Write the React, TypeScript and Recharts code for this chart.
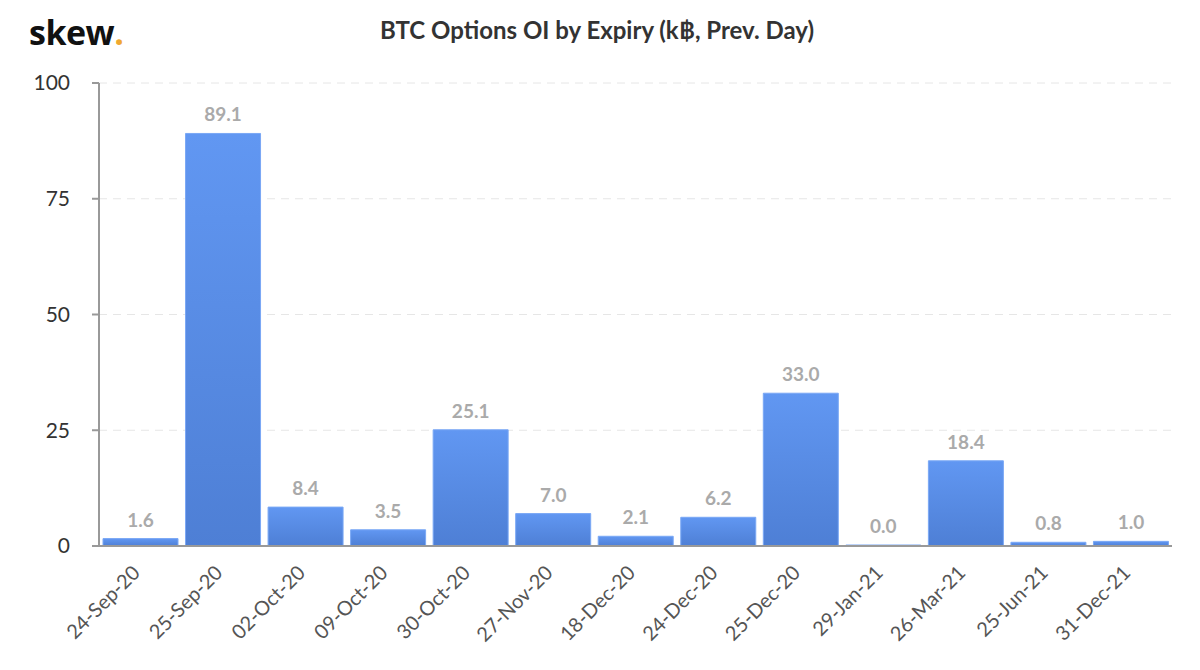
import { BarChart, Bar, XAxis, YAxis, CartesianGrid, LabelList } from "recharts";

const expiries = [
  "24-Sep-20",
  "25-Sep-20",
  "02-Oct-20",
  "09-Oct-20",
  "30-Oct-20",
  "27-Nov-20",
  "18-Dec-20",
  "24-Dec-20",
  "25-Dec-20",
  "29-Jan-21",
  "26-Mar-21",
  "25-Jun-21",
  "31-Dec-21",
];
const openInterest = [1.6, 89.1, 8.4, 3.5, 25.1, 7.0, 2.1, 6.2, 33.0, 0.0, 18.4, 0.8, 1.0];
const yTicks = [0, 25, 50, 75, 100];

const FONT = "Lato, 'Open Sans', sans-serif";

const XTick = (props: any) => {
  const { x, y, payload } = props;
  const ax = x + 1;
  const ay = y + 20;
  return (
    <text
      x={ax}
      y={ay}
      transform={`rotate(-45, ${ax}, ${ay})`}
      textAnchor="end"
      fill="#555"
      fontSize={20}
      fontFamily={FONT}
    >
      {payload.value}
    </text>
  );
};

export default function App() {
  const data = expiries.map((d, i) => ({ expiry: d, oi: openInterest[i] }));

  return (
    <div style={{ position: "absolute", left: 0, top: 0, width: 1200, height: 670, background: "#fff" }}>
      <div
        style={{
          position: "absolute",
          left: 29,
          top: 9,
          fontFamily: "'Open Sans', sans-serif",
          fontWeight: 700,
          fontSize: 34,
          color: "#111",
          letterSpacing: -0.5,
        }}
      >
        skew<span style={{ color: "#F0A830" }}>.</span>
      </div>
      <div
        style={{
          position: "absolute",
          left: 0,
          width: 1194,
          top: 15,
          textAlign: "center",
          fontFamily: FONT,
          fontWeight: 700,
          fontSize: 24,
          color: "#333",
        }}
      >
        BTC Options OI by Expiry (k฿, Prev. Day)
      </div>
      <BarChart
        width={1200}
        height={670}
        data={data}
        margin={{ top: 83, right: 28, left: 0, bottom: 0 }}
        barCategoryGap={4}
      >
        <defs>
          <linearGradient id="barFill" x1="0" y1="0" x2="0" y2="1">
            <stop offset="0%" stopColor="#6197F2" />
            <stop offset="100%" stopColor="#4E7FD5" />
          </linearGradient>
        </defs>
        <CartesianGrid vertical={false} stroke="#e6e6e6" strokeDasharray="8 6" />
        <XAxis
          dataKey="expiry"
          height={124}
          tickLine={false}
          axisLine={{ stroke: "#999", strokeWidth: 2 }}
          tick={<XTick />}
          interval={0}
        />
        <YAxis
          width={99}
          domain={[0, 100]}
          ticks={yTicks}
          tickSize={7}
          tickMargin={22}
          axisLine={{ stroke: "#999", strokeWidth: 2 }}
          tickLine={{ stroke: "#999", strokeWidth: 2 }}
          tick={{ fill: "#333", fontSize: 21, fontFamily: FONT }}
        />
        <Bar
          dataKey="oi"
          fill="url(#barFill)"
          stroke="#7aa8f5"
          strokeWidth={1}
          minPointSize={1}
          isAnimationActive={false}
        >
          <LabelList
            dataKey="oi"
            position="top"
            offset={12}
            formatter={(v: any) => Number(v).toFixed(1)}
            fill="#aaa"
            fontSize={19}
            fontWeight={700}
            fontFamily={FONT}
          />
        </Bar>
      </BarChart>
    </div>
  );
}
